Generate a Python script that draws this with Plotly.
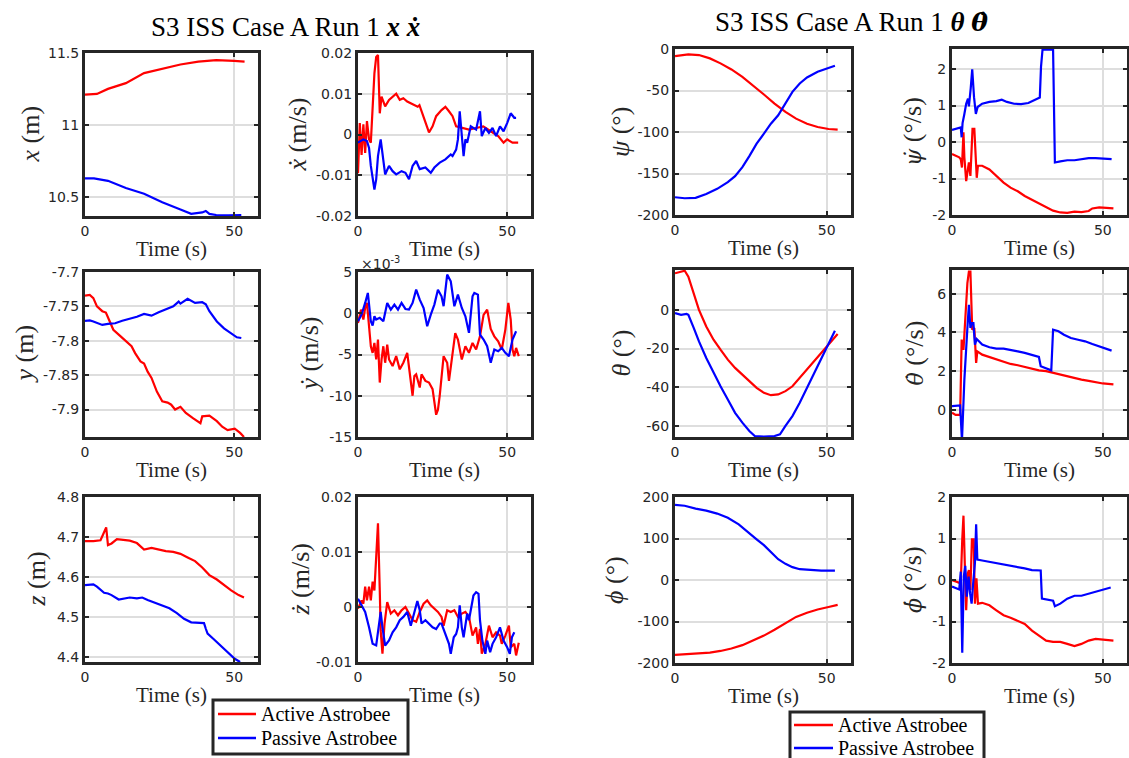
import plotly.graph_objects as go

W, H = 1129, 758

# ---------------- data (time s, value) ----------------
time_ticks = [0, 50]
time_ticklabels = ["0", "50"]

x_active = [(0, 11.21), (2, 11.21), (4, 11.215), (7.7, 11.25), (13.7, 11.29), (19.8, 11.36), (25.9, 11.39),
            (32, 11.42), (38, 11.44), (44, 11.45), (50, 11.445), (53.5, 11.44)]
x_passive = [(0, 10.627), (3, 10.627), (7.7, 10.61), (13.7, 10.56), (19.8, 10.52), (25.9, 10.46), (32, 10.41),
             (35.6, 10.38), (39.3, 10.39), (40.5, 10.40), (41.7, 10.38), (44, 10.372), (48, 10.37), (52.4, 10.372)]

xdot_active = [(0, -0.0095), (0.6, 0.0028), (1.2, -0.005), (1.8, 0.0025), (2.4, -0.0045), (3.0, 0.0033),
               (3.7, -0.0012), (4.3, -0.002), (5.5, 0.015), (6.1, 0.019), (6.7, 0.0195), (7.3, 0.0052),
               (7.9, 0.0093), (9.1, 0.0069), (10.4, 0.0085), (11.6, 0.0093), (12.8, 0.01), (14, 0.0085),
               (15.2, 0.0089), (16.5, 0.0081), (17.7, 0.0076), (20, 0.0068), (20.6, 0.0072), (22, 0.0041),
               (23.8, 0.0005), (25, 0.002), (26.2, 0.0045), (28, 0.006), (29.3, 0.0068), (30.5, 0.0057),
               (31.7, 0.0045), (32.9, 0.002), (34.8, 0.0016), (37.2, 0.0012), (39.6, 0.0016), (42, 0.002),
               (44.5, 0.0008), (47, -0.0004), (48.8, -0.002), (50, -0.0012), (51.8, -0.002), (53.7, -0.002)]
xdot_passive = [(0, -0.002), (1.8, -0.0012), (3, -0.0016), (3.7, -0.0033), (4.3, -0.0077), (5.5, -0.0135),
                (6.1, -0.011), (6.7, -0.0053), (7.6, -0.0012), (8.5, -0.006), (9.1, -0.0098), (10.4, -0.0077),
                (11.6, -0.009), (12.8, -0.0098), (14.6, -0.009), (15.9, -0.0094), (17.1, -0.011), (18.3, -0.0077),
                (19.5, -0.0065), (20.7, -0.0085), (22.6, -0.0081), (24.4, -0.0094), (25.6, -0.0081),
                (27.4, -0.0069), (29.3, -0.0061), (31.1, -0.0049), (31.7, -0.0053), (32.9, -0.0037),
                (33.5, -0.0012), (34.1, 0.0057), (34.8, -0.0012), (35.4, -0.0053), (36, -0.0012), (36.6, -0.002),
                (37.8, 0.002), (39.6, 0.0012), (40.9, 0.0057), (41.5, -0.0004), (42.7, 0.0016), (43.9, 0.0004),
                (45.1, 0.0016), (46.3, -0.0004), (47.6, 0.002), (48.8, 0.0008), (50, 0.0028), (51.2, 0.0052),
                (52.4, 0.0041), (53, 0.0041)]

y_active = [(0, -7.7345), (1.6, -7.7335), (2.8, -7.738), (4, -7.75), (5.8, -7.757), (7, -7.759), (8.3, -7.772),
            (9.5, -7.784), (11.3, -7.791), (13.7, -7.801), (15.6, -7.808), (16.8, -7.818), (18.6, -7.83),
            (19.8, -7.833), (21, -7.845), (22.3, -7.854), (24.1, -7.874), (25.9, -7.888), (27.7, -7.89),
            (28.9, -7.893), (30.2, -7.9), (32, -7.896), (33.8, -7.905), (36.3, -7.913), (38.7, -7.92),
            (39.3, -7.91), (41.7, -7.909), (44.2, -7.917), (46, -7.925), (47.8, -7.93), (50.2, -7.928),
            (52, -7.934), (53.3, -7.94)]
y_passive = [(0, -7.771), (1.6, -7.7705), (2.8, -7.772), (4, -7.774), (5.8, -7.777), (7.7, -7.7755),
             (10.1, -7.7745), (12.5, -7.771), (15, -7.768), (17.4, -7.765), (19.8, -7.761), (22.3, -7.7635),
             (24.7, -7.7585), (27.1, -7.754), (29.6, -7.75), (31.4, -7.743), (32, -7.746), (34.4, -7.739),
             (36.9, -7.745), (39.3, -7.744), (40.5, -7.747), (41.7, -7.757), (44.2, -7.772), (46.6, -7.782),
             (49, -7.789), (50.9, -7.795), (52.4, -7.796)]

# ydot in units of 1e-3 m/s
ydot_active_e3 = [(0, -1.17), (1, 0.44), (1.8, -0.77), (2.4, 0.65), (3, 1.25), (3.7, -1.17), (4.3, -4),
                  (4.9, -4.8), (5.5, -3.6), (6.1, -5.6), (6.7, -3.2), (7.3, -8.4), (7.9, -5.6), (8.5, -4),
                  (9.1, -6), (9.8, -3.8), (10.4, -5.6), (11.6, -6.4), (12.8, -5.2), (14, -6.8), (15.2, -6),
                  (16.5, -4.8), (17.7, -8.4), (18.3, -10), (18.9, -7.6), (19.5, -7.4), (20.7, -9), (21.3, -7.4),
                  (22.6, -8.2), (23.8, -8.4), (25, -9.2), (26.2, -12.3), (26.8, -11.7), (27.4, -10),
                  (28.7, -5.2), (29.9, -6), (30.5, -8.2), (31.7, -4.8), (32.6, -2.4), (33.5, -3.2),
                  (34.8, -5.6), (36, -4), (37.2, -4.8), (38.4, -3.6), (39.6, -4.4), (40.9, -2.8), (42.1, -0.2),
                  (43.3, 0.44), (44.5, -1.9), (45.7, -2.8), (47, -3.4), (48.2, -4.4), (49.4, -1.98),
                  (50.4, 1.25), (51.2, -0.77), (51.8, -4.4), (52.4, -5.2), (53, -4.2), (53.9, -5.2)]
ydot_passive_e3 = [(0, -0.97), (1.2, -0.16), (2.4, 1.25), (3.3, 2.46), (4.3, -0.97), (4.9, -1.5), (5.5, -0.36),
                   (6.1, -0.77), (7.3, -0.56), (8.5, -0.97), (9.8, 1.25), (11, 0.44), (12.2, 1.05), (13.4, 0.44),
                   (14.6, 1.25), (15.9, 0.52), (17.1, 0.44), (18.3, 1.25), (19.5, 2.86), (20.7, 1.65), (22, 0.64),
                   (23.2, -1.57), (24.4, -0.16), (25.6, 1.05), (26.8, 2.86), (28, 2.06), (28.7, 0.85),
                   (29.9, 4.68), (31.1, 3.87), (32.3, 0.85), (33.5, 2.26), (34.8, 0.64), (36, -0.36),
                   (37.2, -2.38), (38.4, 2.06), (39, 2.46), (40.2, 2.26), (40.9, -2.58), (42.1, -3.19),
                   (43.3, -4), (44.5, -6), (45.7, -4.4), (47, -4.6), (48.2, -4.2), (49.4, -4.8), (50.6, -5.2),
                   (51.8, -3.19), (53, -2.18)]

z_active = [(0, 4.690), (2.8, 4.690), (5.2, 4.692), (6.2, 4.708), (7.1, 4.724), (7.7, 4.68), (8.9, 4.684),
            (10.7, 4.695), (12.5, 4.694), (15, 4.691), (17.4, 4.685), (19.8, 4.669), (22.3, 4.673),
            (24.7, 4.669), (27.1, 4.665), (29.6, 4.663), (32, 4.658), (34.4, 4.649), (36.9, 4.64),
            (39.3, 4.624), (41.7, 4.605), (44.2, 4.594), (46.6, 4.58), (49, 4.567), (51.5, 4.555), (53.3, 4.549)]
z_passive = [(0, 4.58), (2.8, 4.582), (4, 4.576), (6.4, 4.561), (7.7, 4.559), (8.9, 4.555), (11.3, 4.544),
             (13.1, 4.547), (15, 4.549), (17.4, 4.547), (19.2, 4.549), (21, 4.543), (23.5, 4.536), (25.9, 4.53),
             (28.3, 4.522), (30.8, 4.51), (33.2, 4.496), (35.6, 4.487), (38.1, 4.485), (39.9, 4.485),
             (40.5, 4.471), (41.1, 4.459), (43, 4.446), (45.4, 4.429), (47.8, 4.413), (50.2, 4.396), (52, 4.388)]

zdot_active = [(0, -0.0003), (1.2, 0.0012), (1.8, 0.0006), (2.4, 0.0037), (3, 0.0012), (3.7, 0.0037),
               (4.3, 0.0012), (4.9, 0.0046), (5.5, 0.003), (6.1, 0.01), (6.7, 0.0152), (7.3, 0.003),
               (7.6, -0.0043), (8.2, -0.0085), (8.9, -0.003), (9.8, 0.0009), (11, -0.0012), (12.2, -0.0006),
               (13.4, -0.0015), (14.6, -0.0006), (15.9, 0.0), (17.1, -0.0012), (18.3, -0.0024), (19.5, -0.0027),
               (20.7, -0.0009), (22, 0.0006), (23.2, 0.0012), (24.4, 0.0003), (25.6, -0.0003), (26.8, -0.0009),
               (28, -0.0018), (28.7, -0.0034), (29.9, -0.0006), (31.1, -0.0009), (32.3, -0.0006),
               (33.5, -0.0018), (34.8, -0.0012), (36, -0.0009), (37.2, -0.0018), (38.4, -0.0052),
               (39.6, -0.0037), (40.2, -0.0067), (40.9, -0.004), (41.5, -0.0085), (42.7, -0.0067),
               (43.9, -0.0034), (45.1, -0.0055), (46.3, -0.0046), (47.6, -0.0052), (48.2, -0.0067),
               (49.4, -0.0052), (50.6, -0.0034), (51.2, -0.0073), (52.4, -0.0067), (53, -0.0088), (53.9, -0.0065)]
zdot_passive = [(0, 0.0015), (1.2, 0.0003), (2.4, -0.0009), (3.7, -0.0037), (4.9, -0.0067), (6.1, -0.007),
                (7, -0.003), (7.6, -0.0009), (8.2, -0.0037), (9.1, -0.007), (10.4, -0.0061), (11.6, -0.0046),
                (12.8, -0.0037), (14, -0.0024), (15.2, -0.0018), (16.5, -0.0009), (17.7, -0.0034),
                (18.9, -0.0012), (19.9, 0.0011), (20.7, -0.0006), (21.3, -0.003), (22.6, -0.0024), (23.8, -0.003),
                (25, -0.0037), (26.2, -0.004), (27.4, -0.003), (28, -0.003), (29.3, -0.0049), (30.5, -0.0067),
                (31.1, -0.0085), (32.1, -0.0055), (32.9, -0.0049), (33.5, -0.0037), (34.1, 0.0003),
                (34.8, -0.0037), (35.4, -0.0055), (36, -0.0037), (36.6, -0.0012), (37.2, -0.0024),
                (37.8, -0.0006), (38.7, 0.0021), (39.6, 0.0027), (40.4, 0.0024), (40.9, -0.0024),
                (41.7, -0.0061), (42.7, -0.0085), (43.3, -0.0061), (44.3, -0.0082), (45.1, -0.0067),
                (46.3, -0.0055), (47.6, -0.0037), (48.8, -0.0061), (50, -0.0073), (50.9, -0.0085),
                (51.6, -0.0055), (52.4, -0.0046)]

psi_active = [(0, -8.5), (4.4, -6.5), (7.9, -7.3), (11.5, -11.3), (15, -17.3), (18.6, -24.6), (22.2, -33.5),
              (25.7, -43.5), (29.3, -54.8), (32.8, -65.7), (36.4, -75.8), (39.9, -83.9), (43.5, -90),
              (47, -94), (50.6, -96.4), (53.6, -97.2)]
psi_passive = [(0, -178.6), (3.2, -179.8), (6.8, -179.4), (10.3, -174.6), (13.9, -168.5), (17.4, -160.5),
               (19.8, -153.2), (22.2, -142.3), (24.5, -129), (26.9, -114), (29.3, -102), (31.6, -90),
               (34, -79.8), (36.4, -65.7), (38.7, -51.6), (41.1, -41.5), (43.5, -34.3), (47, -27.4),
               (50, -23.4), (52.7, -20.2)]

psidot_active = [(0, -0.33), (1.2, -0.38), (2.4, -0.42), (2.9, -0.47), (3.3, -0.7), (3.8, 0.27), (4.1, -0.42),
                 (4.7, -1.07), (5.3, -0.61), (5.6, -0.56), (6.1, -0.93), (6.8, 0.36), (7.4, 0.36), (8.2, -0.98),
                 (8.6, -0.65), (10, -0.65), (12.4, -0.75), (14.7, -0.93), (17.1, -1.11), (19.4, -1.25),
                 (21.8, -1.35), (24.1, -1.48), (26.5, -1.58), (28.8, -1.67), (31.2, -1.79), (33.5, -1.88),
                 (35.9, -1.93), (38.2, -1.94), (40.6, -1.91), (42.9, -1.92), (45.3, -1.89), (46.5, -1.82),
                 (48.8, -1.79), (51.2, -1.81), (53.5, -1.82)]
psidot_passive = [(0, 0.33), (1.2, 0.36), (2.9, 0.4), (3.2, 0.13), (3.5, 0.52), (4.1, 0.77), (4.7, 1.05),
                  (5.3, 1.19), (5.6, 0.98), (6.2, 1.47), (6.7, 1.99), (7.3, 1.23), (7.9, 0.77), (8.5, 0.96),
                  (10, 1.05), (12.4, 1.1), (14.7, 1.12), (16.5, 1.16), (18.2, 1.1), (20.6, 1.05), (22.9, 1.04),
                  (25.3, 1.07), (27.6, 1.16), (29.1, 1.22), (29.5, 2.06), (30, 2.53), (33.5, 2.53),
                  (34.1, -0.56), (35.9, -0.53), (38.2, -0.5), (40.6, -0.5), (42.9, -0.47), (45.3, -0.44),
                  (47.6, -0.44), (50, -0.45), (52.9, -0.47)]

theta_active = [(0, 18.9), (2, 19.7), (3.2, 20.2), (4.4, 17.1), (5.6, 11.1), (6.8, 4.3), (7.9, 0), (10.3, -8.6),
                (12.7, -15.4), (15, -20.6), (17.4, -25.7), (19.8, -30), (22.2, -33.4), (24.5, -36.9),
                (26.9, -40.3), (29.3, -42.9), (31.6, -44.1), (34, -43.7), (36.4, -42), (38.7, -39.5),
                (41.1, -35.2), (43.5, -30.9), (45.9, -26.6), (48.2, -22.3), (50.6, -17.7), (53.6, -12.5)]
theta_passive = [(0, -1.7), (2, -2.6), (3.8, -2.1), (4.4, -2.6), (6.2, -9.4), (7.9, -16.3), (10.3, -24.9),
                 (12.7, -32.6), (15, -39.5), (17.4, -46.3), (19.8, -53.2), (22.2, -58.3), (24.5, -62.6),
                 (26.3, -65.2), (29.3, -65.5), (32.8, -65.2), (34.6, -64.3), (36.4, -60), (38.7, -54.9),
                 (41.1, -48), (43.5, -40.3), (45.9, -32.6), (48.2, -24.9), (50.6, -17.2), (52.7, -10.8)]

thetadot_active = [(0, -0.15), (1.2, -0.27), (2.7, -0.27), (3.2, 3.63), (3.8, 3.1), (4.4, 4.8), (5.1, 6.55),
                   (5.6, 7.15), (6.1, 7.15), (6.7, 4.14), (7.4, 4.22), (8, 2.42), (8.4, 3.02), (10, 2.85),
                   (12.4, 2.73), (14.7, 2.6), (17.1, 2.46), (19.4, 2.37), (21.8, 2.3), (24.1, 2.22),
                   (26.5, 2.13), (28.8, 2.04), (31.2, 2.0), (33.5, 1.91), (35.9, 1.82), (38.2, 1.74),
                   (40.6, 1.65), (42.9, 1.56), (45.3, 1.49), (47.6, 1.41), (50, 1.36), (53.5, 1.31)]
thetadot_passive = [(0, 0.19), (1.8, 0.19), (2.7, 0.22), (3.3, -1.6), (4.1, 1.56), (5.1, 4.23), (5.6, 5.43),
                    (6.1, 4.23), (6.5, 4.48), (7.1, 4.48), (7.6, 3.37), (8.2, 3.66), (10, 3.37), (12.4, 3.23),
                    (14.7, 3.16), (17.1, 3.16), (19.4, 3.11), (21.8, 3.02), (24.1, 2.94), (26.5, 2.85),
                    (28.8, 2.73), (29.4, 2.25), (31.2, 2.13), (32.9, 2.04), (33.5, 4.14), (35.3, 4.06),
                    (37.1, 3.88), (39.4, 3.71), (41.8, 3.62), (44.1, 3.54), (46.5, 3.4), (48.8, 3.28),
                    (51.2, 3.16), (52.9, 3.06)]

phi_active = [(0, -180.5), (4.4, -179), (7.9, -177), (11.5, -175), (15, -171), (18.6, -165), (22.2, -157),
              (25.7, -146), (29.3, -134), (32.8, -120), (36.4, -104), (39.9, -89), (43.5, -79), (47, -71),
              (50.6, -65), (53.6, -60)]
phi_passive = [(0, 181), (3.2, 179), (6.8, 172), (10.3, 167), (13.9, 160), (17.4, 150), (21, 134), (24.5, 114),
               (26.9, 98), (29.3, 84), (31.6, 67), (34, 50), (36.4, 39), (38.7, 31), (41.1, 26), (44.7, 23.6),
               (48.2, 22.8), (52.7, 22.8)]

phidot_active = [(0, 0.0), (1.2, -0.04), (2.4, -0.08), (2.9, -0.08), (3.4, 0.98), (3.8, 1.55), (4.2, 0.49),
                 (4.7, -0.73), (5.2, 0.16), (5.6, 0.24), (6.1, -0.24), (6.6, 0.98), (7.2, 0.98), (7.6, -0.57),
                 (8.1, 0.04), (8.6, -0.57), (10, -0.55), (12.4, -0.61), (14.7, -0.73), (17.1, -0.85),
                 (19.4, -0.91), (21.8, -0.98), (24.1, -1.06), (26.5, -1.22), (28.8, -1.33), (31.2, -1.46),
                 (33.5, -1.49), (35.9, -1.49), (38.2, -1.54), (40.6, -1.59), (42.9, -1.54), (45.3, -1.46),
                 (47.6, -1.42), (50, -1.44), (53.5, -1.46)]
phidot_passive = [(0, -0.16), (1.2, -0.2), (2.4, -0.23), (2.9, 0.2), (3.4, -1.75), (3.9, 0.08), (4.4, 0.34),
                  (4.9, -0.4), (5.5, 0.08), (6, -0.33), (6.5, -0.57), (7.1, 0.0), (7.6, 0.41), (8, 1.34),
                  (8.4, 0.49), (10, 0.47), (12.4, 0.44), (14.7, 0.41), (17.1, 0.37), (19.4, 0.34), (21.8, 0.31),
                  (24.1, 0.28), (26.5, 0.24), (29.4, 0.23), (29.8, -0.45), (31.8, -0.47), (33.5, -0.5),
                  (34.1, -0.63), (35.9, -0.57), (38.2, -0.45), (40.6, -0.38), (42.9, -0.38), (45.3, -0.33),
                  (47.6, -0.27), (50, -0.23), (52.6, -0.18)]

# y tick values / labels per panel
x_ticks = [10.5, 11, 11.5];              x_ticklabels = ["10.5", "11", "11.5"]
xdot_ticks = [-0.02, -0.01, 0, 0.01, 0.02]; xdot_ticklabels = ["-0.02", "-0.01", "0", "0.01", "0.02"]
y_ticks = [-7.9, -7.85, -7.8, -7.75, -7.7]; y_ticklabels = ["-7.9", "-7.85", "-7.8", "-7.75", "-7.7"]
ydot_ticks = [-15, -10, -5, 0, 5];          ydot_ticklabels = ["-15", "-10", "-5", "0", "5"]
z_ticks = [4.4, 4.5, 4.6, 4.7, 4.8];         z_ticklabels = ["4.4", "4.5", "4.6", "4.7", "4.8"]
zdot_ticks = [-0.01, 0, 0.01, 0.02];         zdot_ticklabels = ["-0.01", "0", "0.01", "0.02"]
psi_ticks = [-200, -150, -100, -50, 0];      psi_ticklabels = ["-200", "-150", "-100", "-50", "0"]
psidot_ticks = [-2, -1, 0, 1, 2];            psidot_ticklabels = ["-2", "-1", "0", "1", "2"]
theta_ticks = [-60, -40, -20, 0];            theta_ticklabels = ["-60", "-40", "-20", "0"]
thetadot_ticks = [0, 2, 4, 6];               thetadot_ticklabels = ["0", "2", "4", "6"]
phi_ticks = [-200, -100, 0, 100, 200];       phi_ticklabels = ["-200", "-100", "0", "100", "200"]
phidot_ticks = [-2, -1, 0, 1, 2];            phidot_ticklabels = ["-2", "-1", "0", "1", "2"]

series_names = ["Active Astrobee", "Passive Astrobee"]

# ---------------- layout / style ----------------
RED, BLUE = "#ff0000", "#0000ff"
FRAME = "#262626"
GRID = "#dedede"
TICKFONT = dict(family="DejaVu Sans", size=14, color=FRAME)
SERIF = "Liberation Serif"


def dotted(sym, px, bold=False):
    # Greek symbol with a dot accent, drawn with a font that positions combining marks
    style = "font-family:'DejaVu Serif';font-size:%dpx;font-style:italic" % px
    if bold:
        style += ";font-weight:bold"
    return "<span style=\"" + style + "\">" + sym + "\u0307</span>"


COLS = {1: (85, 258), 2: (358, 531), 3: (675, 851), 4: (952, 1127)}
ROWS_L = {1: (53, 216), 2: (272, 437), 3: (497, 662)}
ROWS_R = {1: (49, 215), 2: (270, 437), 3: (497, 663)}

# (row, col, active, passive, yrange, ticks, ticklabels, ylabel, ylabel_x)
panels = [
    (1, 1, x_active, x_passive, [10.365, 11.5], x_ticks, x_ticklabels, "<i>x</i> (m)", 30),
    (1, 2, xdot_active, xdot_passive, [-0.02, 0.02], xdot_ticks, xdot_ticklabels, "<i>ẋ</i> (m/s)", 297),
    (1, 3, psi_active, psi_passive, [-200, 0], psi_ticks, psi_ticklabels, "<i>ψ</i> (°)", 620),
    (1, 4, psidot_active, psidot_passive, [-2, 2.55], psidot_ticks, psidot_ticklabels, dotted("ψ", 22) + " (°/s)", 912),
    (2, 1, y_active, y_passive, [-7.94, -7.7], y_ticks, y_ticklabels, "<i>y</i> (m)", 24),
    (2, 2, ydot_active_e3, ydot_passive_e3, [-15, 5], ydot_ticks, ydot_ticklabels, "<i>ẏ</i> (m/s)", 309),
    (2, 3, theta_active, theta_passive, [-65.7, 20.6], theta_ticks, theta_ticklabels, "<i>θ</i> (°)", 621),
    (2, 4, thetadot_active, thetadot_passive, [-1.41, 7.23], thetadot_ticks, thetadot_ticklabels, dotted("θ", 22) + " (°/s)", 914),
    (3, 1, z_active, z_passive, [4.388, 4.8], z_ticks, z_ticklabels, "<i>z</i> (m)", 36),
    (3, 2, zdot_active, zdot_passive, [-0.01, 0.02], zdot_ticks, zdot_ticklabels, "<i>ż</i> (m/s)", 300),
    (3, 3, phi_active, phi_passive, [-200, 200], phi_ticks, phi_ticklabels, "<i>ϕ</i> (°)", 614),
    (3, 4, phidot_active, phidot_passive, [-2, 2], phidot_ticks, phidot_ticklabels, dotted("ϕ", 22) + " (°/s)", 912),
]

fig = go.Figure()
annotations = []
shapes = []
layout_axes = {}

for i, (r, c, act, pas, yr, yt, ytl, ylab, ylx) in enumerate(panels, start=1):
    x0, x1 = COLS[c]
    y0, y1 = (ROWS_L if c <= 2 else ROWS_R)[r]
    sfx = "" if i == 1 else str(i)
    xa, ya = "x" + sfx, "y" + sfx
    for data, color, name in ((act, RED, series_names[0]), (pas, BLUE, series_names[1])):
        fig.add_trace(go.Scatter(
            x=[p[0] for p in data], y=[p[1] for p in data], mode="lines", name=name,
            line=dict(color=color, width=2.2), xaxis=xa, yaxis=ya, hoverinfo="skip", showlegend=False,
        ))
    common = dict(showline=True, linecolor=FRAME, linewidth=3, mirror="ticks", ticks="inside",
                  ticklen=4, tickwidth=1.5, tickcolor=FRAME, showgrid=True, gridcolor=GRID, gridwidth=2,
                  zeroline=False, tickfont=TICKFONT, fixedrange=True)
    layout_axes["xaxis" + sfx] = dict(common, domain=[x0 / W, x1 / W], anchor=ya, range=[0, 58],
                                      tickmode="array", tickvals=time_ticks, ticktext=time_ticklabels)
    layout_axes["yaxis" + sfx] = dict(common, domain=[1 - y1 / H, 1 - y0 / H], anchor=xa, range=yr,
                                      tickmode="array", tickvals=yt, ticktext=ytl)
    annotations.append(dict(x=(x0 + x1) / 2 / W, y=1 - (y1 + 33) / H, xref="paper", yref="paper",
                            text="Time (s)", showarrow=False, xanchor="center", yanchor="middle",
                            font=dict(family=SERIF, size=21, color=FRAME)))
    annotations.append(dict(x=ylx / W, y=1 - (y0 + y1) / 2 / H, xref="paper", yref="paper",
                            text=ylab, showarrow=False, xanchor="center", yanchor="middle", textangle=-90,
                            font=dict(family=SERIF, size=26, color=FRAME)))

# exponent label of the ydot panel
annotations.append(dict(x=359 / W, y=1 - 263 / H, xref="paper", yref="paper", text="×10<sup>-3</sup>",
                        showarrow=False, xanchor="left", yanchor="middle",
                        font=dict(family="DejaVu Sans", size=14, color=FRAME)))
# group titles
annotations.append(dict(x=285 / W, y=1 - 27 / H, xref="paper", yref="paper",
                        text="S3 ISS Case A Run 1 <b><i>x ẋ</i></b>", showarrow=False,
                        xanchor="center", yanchor="middle", font=dict(family=SERIF, size=27, color="black")))
annotations.append(dict(x=851 / W, y=1 - 22 / H, xref="paper", yref="paper",
                        text="S3 ISS Case A Run 1 <b><i>θ</i></b> " + dotted("θ", 25, bold=True),
                        showarrow=False, xanchor="center", yanchor="middle",
                        font=dict(family=SERIF, size=27, color="black")))

# legends (one per figure group): frame, line samples and entry labels
legend_boxes = [  # (left, top, right, bottom, line x0, line x1, text x, entry y's)
    (213, 700, 408, 754, 218, 256, 259, (714, 738)),
    (790, 712, 984, 772, 794, 833, 836, (725, 748)),
]
for (bl, bt, br, bb, lx0, lx1, tx, ys) in legend_boxes:
    shapes.append(dict(type="rect", xref="paper", yref="paper", x0=bl / W, x1=br / W, y0=1 - bb / H,
                       y1=1 - bt / H, line=dict(color=FRAME, width=3), fillcolor="white", layer="above"))
    for name, color, yy in zip(series_names, (RED, BLUE), ys):
        shapes.append(dict(type="line", xref="paper", yref="paper", x0=lx0 / W, x1=lx1 / W,
                           y0=1 - yy / H, y1=1 - yy / H, line=dict(color=color, width=2.5), layer="above"))
        annotations.append(dict(x=tx / W, y=1 - yy / H, xref="paper", yref="paper", text=name,
                                showarrow=False, xanchor="left", yanchor="middle",
                                font=dict(family=SERIF, size=20, color="black")))

fig.update_layout(
    width=W, height=H, autosize=False,
    margin=dict(l=0, r=0, t=0, b=0, autoexpand=False),
    paper_bgcolor="white", plot_bgcolor="white",
    annotations=annotations, shapes=shapes, showlegend=False,
    **layout_axes,
)

fig.write_html("out.html")
